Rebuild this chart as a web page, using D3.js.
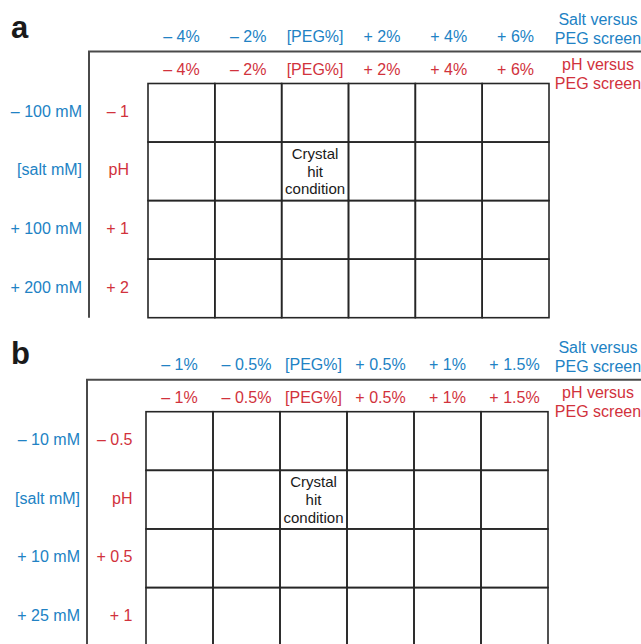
<!DOCTYPE html>
<html>
<head>
<meta charset="utf-8">
<script src="https://cdn.jsdelivr.net/npm/d3@7"></script>
<style>
  html, body { margin: 0; padding: 0; background: #fff; }
  svg { display: block; }
  text { font-family: "Liberation Sans", Arial, Helvetica, sans-serif; }
</style>
</head>
<body>
<svg id="chart" width="641" height="644"></svg>
<script>
// ---- data ----
const pegLabelsA = ["– 4%", "– 2%", "[PEG%]", "+ 2%", "+ 4%", "+ 6%"];
const saltLabelsA = ["– 100 mM", "[salt mM]", "+ 100 mM", "+ 200 mM"];
const phLabelsA = ["– 1", "pH", "+ 1", "+ 2"];

const pegLabelsB = ["– 1%", "– 0.5%", "[PEG%]", "+ 0.5%", "+ 1%", "+ 1.5%"];
const saltLabelsB = ["– 10 mM", "[salt mM]", "+ 10 mM", "+ 25 mM"];
const phLabelsB = ["– 0.5", "pH", "+ 0.5", "+ 1"];

const saltLegend = ["Salt versus", "PEG screen"];
const phLegend = ["pH versus", "PEG screen"];
const hitLines = ["Crystal", "hit", "condition"];
const hitCell = { col: 2, row: 1 };
const panelLetters = ["a", "b"];

// ---- layout ----
const BLUE = "#2182c4";
const RED = "#d1323c";
const FS = 16;

const panels = [
  { letter: panelLetters[0], peg: pegLabelsA, salt: saltLabelsA, ph: phLabelsA,
    gx: [148, 549], gy: [83.5, 317.7], frameX: 89, letterY: 38,
    blueEnd: 82, redEnd: 129 },
  { letter: panelLetters[1], peg: pegLabelsB, salt: saltLabelsB, ph: phLabelsB,
    gx: [146, 548], gy: [411.7, 646.2], frameX: 87, letterY: 364,
    blueEnd: 80, redEnd: 132.5 }
];

const svg = d3.select("#chart");

panels.forEach(p => {
  const g = svg.append("g");
  const x = d3.scaleBand().domain(d3.range(p.peg.length)).range(p.gx);
  const y = d3.scaleBand().domain(d3.range(p.salt.length)).range(p.gy);
  const top = p.gy[0];

  // panel letter
  g.append("text").attr("x", 11).attr("y", p.letterY)
    .attr("font-size", 31).attr("font-weight", "bold").attr("fill", "#1a1a1a")
    .text(p.letter);

  // frame lines
  const frameY = top - 32;
  g.append("line").attr("x1", p.frameX - 1).attr("x2", 641)
    .attr("y1", frameY).attr("y2", frameY)
    .attr("stroke", "#4a4a4a").attr("stroke-width", 2);
  g.append("line").attr("x1", p.frameX).attr("x2", p.frameX)
    .attr("y1", frameY).attr("y2", p.gy[1])
    .attr("stroke", "#4a4a4a").attr("stroke-width", 2);

  // grid cells
  const cells = [];
  p.salt.forEach((_, r) => p.peg.forEach((_, c) => cells.push({ r, c })));
  g.selectAll("rect.cell").data(cells).join("rect")
    .attr("class", "cell")
    .attr("x", d => x(d.c)).attr("y", d => y(d.r))
    .attr("width", x.bandwidth()).attr("height", y.bandwidth())
    .attr("fill", "none").attr("stroke", "#262626").attr("stroke-width", 1.6);

  // top labels (blue: salt vs PEG, red: pH vs PEG)
  g.selectAll("text.pegBlue").data(p.peg).join("text")
    .attr("class", "pegBlue")
    .attr("x", (d, i) => x(i) + x.bandwidth() / 2)
    .attr("y", top - 47).attr("dy", "0.35em")
    .attr("text-anchor", "middle").attr("font-size", FS).attr("fill", BLUE)
    .text(d => d);
  g.selectAll("text.pegRed").data(p.peg).join("text")
    .attr("class", "pegRed")
    .attr("x", (d, i) => x(i) + x.bandwidth() / 2)
    .attr("y", top - 14.5).attr("dy", "0.35em")
    .attr("text-anchor", "middle").attr("font-size", FS).attr("fill", RED)
    .text(d => d);

  // left labels
  g.selectAll("text.salt").data(p.salt).join("text")
    .attr("class", "salt")
    .attr("x", p.blueEnd)
    .attr("y", (d, i) => y(i) + y.bandwidth() / 2 - 1.5).attr("dy", "0.35em")
    .attr("text-anchor", "end").attr("font-size", FS).attr("fill", BLUE)
    .text(d => d);
  g.selectAll("text.ph").data(p.ph).join("text")
    .attr("class", "ph")
    .attr("x", p.redEnd)
    .attr("y", (d, i) => y(i) + y.bandwidth() / 2 - 1.5).attr("dy", "0.35em")
    .attr("text-anchor", "end").attr("font-size", FS).attr("fill", RED)
    .text(d => d);

  // legends
  g.selectAll("text.legSalt").data(saltLegend).join("text")
    .attr("class", "legSalt")
    .attr("x", 598).attr("y", (d, i) => top - 64 + i * 18.5).attr("dy", "0.35em")
    .attr("text-anchor", "middle").attr("font-size", FS).attr("fill", BLUE)
    .text(d => d);
  g.selectAll("text.legPh").data(phLegend).join("text")
    .attr("class", "legPh")
    .attr("x", 598).attr("y", (d, i) => top - 19 + i * 18.5).attr("dy", "0.35em")
    .attr("text-anchor", "middle").attr("font-size", FS).attr("fill", RED)
    .text(d => d);

  // crystal hit condition
  const cx = x(hitCell.col) + x.bandwidth() / 2;
  const cy = y(hitCell.row) + y.bandwidth() / 2;
  g.selectAll("text.hit").data(hitLines).join("text")
    .attr("class", "hit")
    .attr("x", cx)
    .attr("y", (d, i) => cy + (i - 1) * 17.8).attr("dy", "0.35em")
    .attr("text-anchor", "middle").attr("font-size", 15).attr("fill", "#1a1a1a")
    .text(d => d);
});
</script>
</body>
</html>
